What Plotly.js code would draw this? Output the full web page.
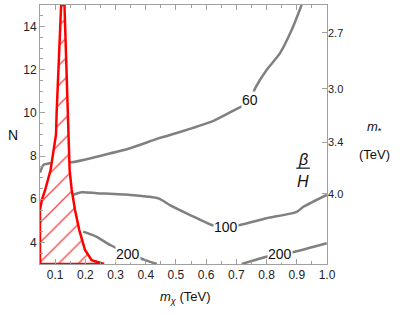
<!DOCTYPE html>
<html>
<head>
<meta charset="utf-8">
<script src="https://cdn.plot.ly/plotly-3.0.1.min.js"></script>
<style>html,body{margin:0;padding:0;background:#fff;}#chart{width:409px;height:316px;}</style>
</head>
<body>
<div id="chart"></div>
<script>
// Contour beta/H = 60
var c60_m = [0.05, 0.061, 0.083, 0.155, 0.238, 0.348, 0.442, 0.524, 0.624, 0.695, 0.742, 0.762, 0.800, 0.844, 0.883, 0.916];
var c60_N = [7.23, 7.59, 7.67, 7.71, 7.97, 8.36, 8.82, 9.16, 9.63, 10.14, 10.5, 11.14, 11.99, 12.76, 13.84, 15.0];
// Contour beta/H = 100
var c100_m = [0.160, 0.188, 0.238, 0.348, 0.442, 0.480, 0.547, 0.618, 0.666, 0.712, 0.800, 0.900, 0.922, 0.999];
var c100_N = [6.20, 6.32, 6.28, 6.20, 6.04, 5.73, 5.27, 4.81, 4.73, 4.81, 5.12, 5.42, 5.65, 6.20];
// Contour beta/H = 200 (left piece)
var c200a_m = [0.193, 0.238, 0.282, 0.341, 0.398, 0.437];
var c200a_N = [4.50, 4.26, 3.88, 3.51, 3.18, 3.0];
// Contour beta/H = 200 (right piece)
var c200b_m = [0.718, 0.800, 0.844, 0.894, 0.999];
var c200b_N = [3.0, 3.34, 3.45, 3.57, 3.96];
// Excluded (hatched) region boundary
var excl_left_m = [0.05, 0.05, 0.056, 0.067, 0.085, 0.094, 0.103, 0.105, 0.111, 0.118, 0.120];
var excl_left_N = [3.0, 5.5, 5.96, 6.43, 7.35, 8.28, 9.0, 10, 12, 14, 15];
var excl_right_m = [0.131, 0.133, 0.137, 0.142, 0.143, 0.147, 0.148, 0.155, 0.166, 0.180, 0.199, 0.221, 0.238, 0.262];
var excl_right_N = [15, 14, 12, 10, 9, 8, 7.35, 6.43, 5.5, 4.57, 3.65, 3.18, 3.1, 3.0];
// Contour labels
var lab_text = ['60', '100', '200', '200'];
var lab_m = [0.745, 0.666, 0.341, 0.844];
var lab_N = [10.6, 4.73, 3.47, 3.45];
// Right axis (m_* in TeV), m_* = 10/sqrt(N)
var mstar_labels = ['2.7', '3.0', '3.4', '4.0'];
var mstar_vals = [2.7, 3.0, 3.4, 4.0];

var gray = 'rgb(128,128,128)';
var lineStyle = {color: gray, width: 2.5, shape: 'spline', smoothing: 0.6};
function cline(x, y) {
  return {x: x, y: y, type: 'scatter', mode: 'lines', line: lineStyle, hoverinfo: 'skip', showlegend: false};
}
var regM = excl_left_m.concat(excl_right_m, [excl_left_m[0]]);
var regN = excl_left_N.concat(excl_right_N, [excl_left_N[0]]);

var traces = [
  cline(c60_m, c60_N),
  cline(c100_m, c100_N),
  cline(c200a_m, c200a_N),
  cline(c200b_m, c200b_N),
  {x: regM, y: regN, type: 'scatter', mode: 'lines', fill: 'toself', fillcolor: 'white',
   fillpattern: {shape: '/', fgcolor: 'rgba(255,40,40,0.9)', bgcolor: 'white', size: 14, solidity: 0.09},
   line: {color: 'rgb(255,0,0)', width: 2.5}, xaxis: 'x', yaxis: 'y2', hoverinfo: 'skip', showlegend: false}
];

var FF = 'Liberation Sans, Arial, sans-serif';
var tickFont = {family: FF, size: 12, color: '#222'};
var axColor = '#a0a0a0';
var annotations = [];
for (var i = 0; i < lab_text.length; i++) {
  annotations.push({x: lab_m[i], y: lab_N[i], xref: 'x', yref: 'y', text: lab_text[i], showarrow: false,
    xanchor: 'center', yanchor: 'middle',
    bgcolor: 'white', borderpad: 0, font: {family: FF, size: 14, color: '#111'}});
}
function pa(x, y, text, size) {
  return {xref: 'paper', yref: 'paper', x: x, y: y, text: text, showarrow: false,
    xanchor: 'center', yanchor: 'middle', font: {family: FF, size: size, color: '#111'}};
}
annotations.push(pa(-0.094, 0.498, 'N', 14));
annotations.push(pa(0.505, -0.131, '<i>m</i><sub><i>χ</i></sub> (TeV)', 13));
annotations.push(pa(1.167, 0.528, '<i>m</i><sub>*</sub>', 13));
annotations.push(pa(1.167, 0.421, '(TeV)', 13));
annotations.push(pa(0.916, 0.405, '<i>β</i>', 16));
annotations.push(pa(0.916, 0.318, '<i>H</i>', 16));

var layout = {
  width: 409, height: 316,
  margin: {l: 40, r: 82, t: 5, b: 52},
  paper_bgcolor: 'white', plot_bgcolor: 'white',
  showlegend: false,
  xaxis: {range: [0.05, 1.0], tick0: 0.1, dtick: 0.1, tickformat: '.1f', ticks: 'inside', ticklen: 5,
    tickcolor: axColor, showline: true, linecolor: axColor, linewidth: 1, mirror: 'ticks', showgrid: false, zeroline: false,
    tickfont: tickFont, minor: {dtick: 0.05, tick0: 0.05, ticks: 'inside', ticklen: 3, tickcolor: axColor}},
  yaxis: {range: [3, 15], tickvals: [4, 6, 8, 10, 12, 14], ticks: 'inside', ticklen: 5, tickcolor: axColor,
    showline: true, linecolor: axColor, linewidth: 1, mirror: true, showgrid: false, zeroline: false, tickfont: tickFont,
    minor: {dtick: 0.5, tick0: 3, ticks: 'inside', ticklen: 3, tickcolor: axColor}},
  yaxis2: {range: [3, 15], overlaying: 'y', side: 'right', tickvals: mstar_vals.map(function (v) { return 100 / (v * v); }),
    ticktext: mstar_labels, ticks: 'inside', ticklen: 5, tickcolor: axColor, showline: false, showgrid: false, zeroline: false,
    tickfont: {family: FF, size: 11, color: '#222'}},
  shapes: [{type: 'line', xref: 'paper', yref: 'paper', x0: 0.893, x1: 0.94, y0: 0.37, y1: 0.37, line: {color: '#111', width: 1.2}}],
  annotations: annotations
};
Plotly.newPlot('chart', traces, layout, {staticPlot: true, displayModeBar: false});
</script>
</body>
</html>
